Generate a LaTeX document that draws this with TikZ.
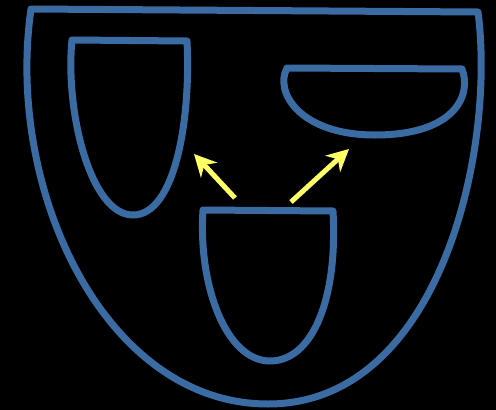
\documentclass[tikz,border=0pt]{standalone}
\usetikzlibrary{arrows.meta}
\definecolor{outl}{HTML}{3A6CA3}
\definecolor{arr}{HTML}{FFFF66}
\begin{document}
\begin{tikzpicture}[x=1pt,y=-1pt,
  blob/.style={draw=outl,line width=7pt,line join=round,line cap=round},
  arrw/.style={draw=arr,line width=5pt,-{Stealth[length=22pt,width=22pt,inset=7pt]}}]
\fill[black] (0,0) rectangle (496,410);
\useasboundingbox (0,0) rectangle (496,410);
% big container
\path[blob] (31,9) -- (478,12) .. controls (496,150) and (440,404) .. (268,404)
  .. controls (105,404) and (5,190) .. (31,9) -- cycle;
% left
\path[blob] (72,40) -- (187,41) .. controls (191,120) and (175,215) .. (133,215)
  .. controls (90,215) and (65,110) .. (72,40) -- cycle;
% right half ellipse
\path[blob] (287,68) -- (462,69) .. controls (472,95) and (455,135) .. (375,135)
  .. controls (300,135) and (274,92) .. (287,68) -- cycle;
% bottom middle
\path[blob] (203,210) -- (333,211) .. controls (338,300) and (312,361) .. (270,361)
  .. controls (226,361) and (198,285) .. (203,210) -- cycle;
\coordinate (a1s) at (235,198);
\coordinate (a1e) at (194,154);
\coordinate (a2s) at (291,202);
\coordinate (a2e) at (349,149);
\draw[arrw] (a1s) -- (a1e);
\draw[arrw] (a2s) -- (a2e);
\end{tikzpicture}
\end{document}
